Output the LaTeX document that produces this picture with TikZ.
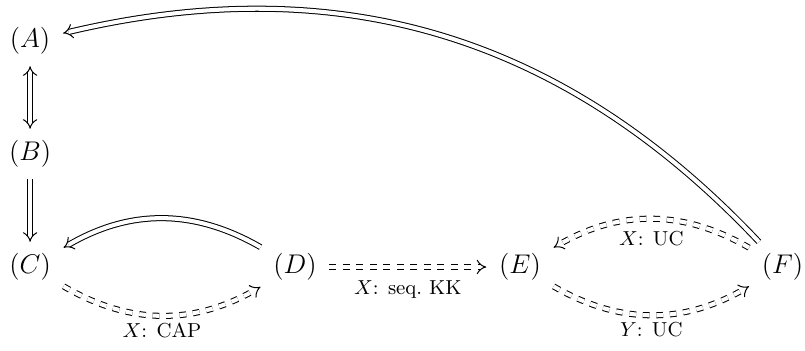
\documentclass[tikz,border=0pt]{standalone}
\usetikzlibrary{arrows.meta}

\begin{document}
\begin{tikzpicture}[
    stmt/.style={inner xsep=5.5pt, inner ysep=5pt, font=\large},
    impl/.style={-{Implies}, double, double distance=1.8pt, line width=0.45pt},
    weak/.style={impl, dashed},
    lbl/.style={font=\small, inner sep=2pt},
]
\useasboundingbox (0,0) rectangle (12.578,-5.484);

% Enunciati
\node[stmt] (A) at (0.47,-0.641)  {$(A)$};
\node[stmt] (B) at (0.47,-2.406)  {$(B)$};
\node[stmt] (C) at (0.47,-4.172)  {$(C)$};
\node[stmt] (D) at (4.609,-4.172) {$(D)$};
\node[stmt] (E) at (8.125,-4.172) {$(E)$};
\node[stmt] (F) at (12.227,-4.172) {$(F)$};

%% Implicazioni forti
\draw[impl, {Implies}-{Implies}] (A) -- (B);
\draw[impl] (B) -- (C);
\draw[impl] (D) to[bend right=30] (C);
\draw[impl] (F) to[bend right=30] (A);

%% Implicazioni deboli
\draw[weak] (C) to[bend right=30]
    node[lbl, below=1pt] {$X$: CAP} (D);
\draw[weak] (D) --
    node[lbl, below=4pt] {$X$: seq.\ KK} (E);
\draw[weak] (F) to[bend right=30]
    node[lbl, below=3pt] {$X$: UC} (E);
\draw[weak] (E) to[bend right=30]
    node[lbl, below=1pt] {$Y$: UC} (F);

\end{tikzpicture}
\end{document}
